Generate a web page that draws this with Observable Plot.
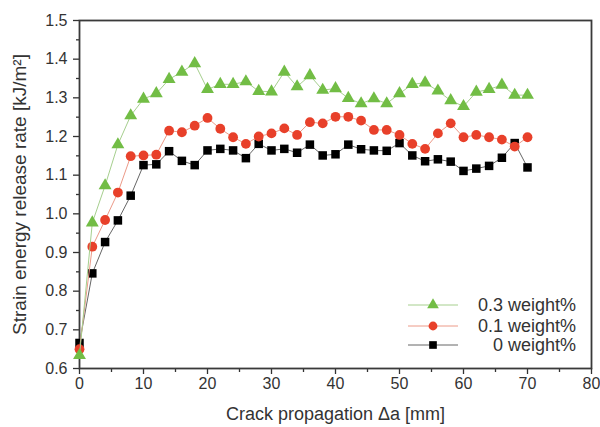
<!DOCTYPE html>
<html><head><meta charset="utf-8">
<script src="https://cdn.jsdelivr.net/npm/d3@7"></script>
<script src="https://cdn.jsdelivr.net/npm/@observablehq/plot@0.6"></script>
<style>
body{margin:0;background:#fff;}
#wrap{position:relative;width:600px;height:427px;font-family:"Liberation Sans",Arial,sans-serif;}
#wrap svg{display:block;}
#legend{position:absolute;left:0;top:0;pointer-events:none;}
</style></head><body><div id="wrap"></div>
<script>
const crack = [0,2,4,6,8,10,12,14,16,18,20,22,24,26,28,30,32,34,36,38,40,42,44,46,48,50,52,54,56,58,60,62,64,66,68,70];
const w03 = [0.634,0.977,1.073,1.179,1.254,1.297,1.311,1.348,1.367,1.389,1.322,1.335,1.335,1.342,1.317,1.316,1.367,1.329,1.358,1.320,1.324,1.299,1.285,1.298,1.285,1.311,1.335,1.339,1.318,1.293,1.278,1.315,1.322,1.333,1.307,1.307];
const w01 = [0.650,0.915,0.984,1.055,1.149,1.151,1.153,1.215,1.211,1.228,1.248,1.220,1.198,1.181,1.200,1.208,1.221,1.204,1.237,1.234,1.251,1.251,1.241,1.217,1.217,1.204,1.181,1.168,1.208,1.234,1.198,1.204,1.198,1.192,1.174,1.198];
const w00 = [0.666,0.846,0.927,0.983,1.047,1.126,1.128,1.162,1.137,1.126,1.164,1.168,1.164,1.144,1.181,1.164,1.168,1.158,1.179,1.151,1.154,1.179,1.167,1.164,1.163,1.183,1.151,1.136,1.141,1.135,1.111,1.117,1.124,1.145,1.183,1.120];
const seriesNames = ["0.3 weight%","0.1 weight%","0 weight%"];
const xMajor = [0,10,20,30,40,50,60,70,80];
const xMinor = [5,15,25,35,45,55,65,75];
const yMajor = [0.6,0.7,0.8,0.9,1.0,1.1,1.2,1.3,1.4,1.5];
const yMinor = [0.65,0.75,0.85,0.95,1.05,1.15,1.25,1.35,1.45];

const styles = [
  {name: seriesNames[0], vals: w03, symbol: "triangle", r: 4.8, fill: "#72bd45", line: "#a6cf8e"},
  {name: seriesNames[1], vals: w01, symbol: "circle", r: 4.9, fill: "#e8402a", line: "#ec9a88"},
  {name: seriesNames[2], vals: w00, symbol: "square", r: 4.8, fill: "#000000", line: "#666666"}
];
const rows = s => crack.map((x, i) => ({x, y: s.vals[i]}));
const drawOrder = [styles[2], styles[1], styles[0]];

const marks = [
  Plot.axisX({ticks: xMinor, tickSize: 4, text: null, label: null, stroke: "#333", strokeWidth: 1.3}),
  Plot.axisX({ticks: xMajor, tickSize: 6, tickPadding: 3, stroke: "#333", strokeWidth: 1.3, fill: "#333",
    label: "Crack propagation \u0394a [mm]", labelAnchor: "center", labelArrow: "none", labelOffset: 51}),
  Plot.axisY({ticks: yMinor, tickSize: 3, text: null, label: null, stroke: "#333", strokeWidth: 1.3}),
  Plot.axisY({ticks: yMajor, tickSize: 6, tickPadding: 6, tickFormat: d3.format(".1f"), stroke: "#333", strokeWidth: 1.3, fill: "#333",
    label: "Strain energy release rate [kJ/m\u00b2]", labelAnchor: "center", labelArrow: "none", labelOffset: 67}),
  Plot.frame({stroke: "#3a3a3a", strokeWidth: 1.8})
];
for (const s of drawOrder) {
  marks.push(Plot.line(rows(s), {x: "x", y: "y", stroke: s.line, strokeWidth: 1}));
  marks.push(Plot.dot(rows(s), {x: "x", y: "y", symbol: s.symbol, r: s.r, fill: s.fill, stroke: "none"}));
}

const chart = Plot.plot({
  width: 600, height: 427,
  marginLeft: 79, marginRight: 9, marginTop: 20, marginBottom: 59,
  style: {fontFamily: "'Liberation Sans', Arial, sans-serif", color: "#333", background: "#fff"},
  x: {domain: [0, 80]},
  y: {domain: [0.6, 1.5]},
  marks
});
const wrap = document.getElementById("wrap");
wrap.appendChild(chart);
const sel = d3.select(chart);
sel.selectAll("g[aria-label$='tick label']").style("font-size", "16px");
sel.selectAll("g[aria-label='x-axis label']").style("font-size", "18px");
sel.selectAll("g[aria-label='y-axis label']").style("font-size", "19px");

// legend overlay
const leg = d3.select(wrap).append("svg").attr("id", "legend").attr("width", 600).attr("height", 427);
const legY = [305, 326, 345];
styles.forEach((s, i) => {
  const g = leg.append("g").attr("transform", `translate(0,${legY[i]})`);
  g.append("line").attr("x1", 408).attr("x2", 458).attr("stroke", s.line).attr("stroke-width", 1);
  const sym = s.symbol === "triangle" ? d3.symbolTriangle : s.symbol === "circle" ? d3.symbolCircle : d3.symbolSquare;
  const rr = s.r * 0.9;
  g.append("path").attr("d", d3.symbol(sym, Math.PI * rr * rr)()).attr("transform", "translate(433,0)").attr("fill", s.fill);
  g.append("text").attr("x", 576).attr("y", 0).attr("dy", "0.35em").attr("text-anchor", "end")
    .attr("font-family", "'Liberation Sans', Arial, sans-serif").attr("font-size", 18).attr("fill", "#333").text(s.name);
});
</script></body></html>
